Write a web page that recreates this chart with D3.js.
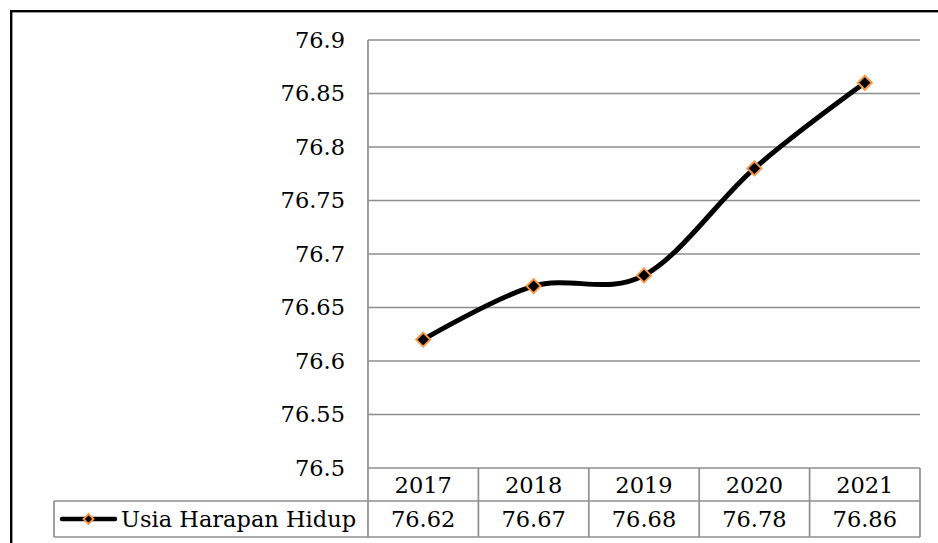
<!DOCTYPE html>
<html>
<head>
<meta charset="utf-8">
<script src="https://cdn.jsdelivr.net/npm/d3@7"></script>
<style>
  html, body { margin: 0; padding: 0; background: #fff; }
  svg { display: block; font-family: "DejaVu Serif", "Liberation Serif", serif; }
</style>
</head>
<body>
<svg id="chart" width="938" height="543"></svg>
<script>
// Life expectancy (Usia Harapan Hidup) by year
const years = ["2017", "2018", "2019", "2020", "2021"];
const values = [76.62, 76.67, 76.68, 76.78, 76.86];
const seriesName = "Usia Harapan Hidup";
const yTicks = [76.5, 76.55, 76.6, 76.65, 76.7, 76.75, 76.8, 76.85, 76.9];
const yTickLabels = ["76.5", "76.55", "76.6", "76.65", "76.7", "76.75", "76.8", "76.85", "76.9"];

const svg = d3.select("#chart");
const W = 938, H = 543;
const plot = { left: 368, right: 920, top: 40, bottom: 468 };
const row1 = 501, row2 = 537, tableLeft = 54;
const grid = "#8e8e8e";
const orange = "#F79646";
const fontSize = 22.5;

// outer frame
svg.append("rect")
  .attr("x", 11.2).attr("y", 11.2)
  .attr("width", W + 10).attr("height", H + 10)
  .attr("fill", "none").attr("stroke", "#000").attr("stroke-width", 2.4);

const x = d3.scaleBand().domain(years).range([plot.left, plot.right]).paddingInner(0).paddingOuter(0);
const y = d3.scaleLinear().domain([76.5, 76.9]).range([plot.bottom, plot.top]);

// horizontal gridlines
svg.append("g").selectAll("line").data(yTicks).join("line")
  .attr("x1", plot.left).attr("x2", plot.right)
  .attr("y1", d => y(d)).attr("y2", d => y(d))
  .attr("stroke", grid).attr("stroke-width", 1.7);

// value axis labels
const yAxis = d3.axisLeft(y).tickValues(yTicks).tickSize(0).tickPadding(23)
  .tickFormat((d, i) => yTickLabels[i]);
const ya = svg.append("g").attr("transform", `translate(${plot.left},0)`).call(yAxis);
ya.select(".domain").remove();
ya.selectAll("text").attr("font-size", fontSize).attr("font-family", "DejaVu Serif, serif").attr("fill", "#000");

// data table lines
const tl = svg.append("g").attr("stroke", grid).attr("stroke-width", 1.7);
tl.append("line").attr("x1", plot.left).attr("x2", plot.left).attr("y1", plot.top).attr("y2", row2);
tl.append("line").attr("x1", tableLeft).attr("x2", plot.right).attr("y1", row1).attr("y2", row1);
tl.append("line").attr("x1", tableLeft).attr("x2", plot.right).attr("y1", row2).attr("y2", row2);
tl.append("line").attr("x1", tableLeft).attr("x2", tableLeft).attr("y1", row1).attr("y2", row2);
tl.selectAll("line.col").data(years).join("line").attr("class", "col")
  .attr("x1", d => x(d) + x.bandwidth()).attr("x2", d => x(d) + x.bandwidth())
  .attr("y1", plot.bottom).attr("y2", row2);

// category row
svg.append("g").selectAll("text").data(years).join("text")
  .attr("x", d => x(d) + x.bandwidth() / 2)
  .attr("y", (plot.bottom + row1) / 2 + 1)
  .attr("dy", "0.35em").attr("text-anchor", "middle")
  .attr("font-size", fontSize).text(d => d);

// value row
svg.append("g").selectAll("text").data(values).join("text")
  .attr("x", (d, i) => x(years[i]) + x.bandwidth() / 2)
  .attr("y", (row1 + row2) / 2)
  .attr("dy", "0.35em").attr("text-anchor", "middle")
  .attr("font-size", fontSize).text(d => d.toFixed(2));

// smoothed series line
const line = d3.line()
  .x((d, i) => x(years[i]) + x.bandwidth() / 2)
  .y(d => y(d))
  .curve(d3.curveCatmullRom.alpha(0));
svg.append("path").datum(values)
  .attr("d", line).attr("fill", "none")
  .attr("stroke", "#000").attr("stroke-width", 5)
  .attr("stroke-linecap", "round").attr("stroke-linejoin", "round");

const diamond = r => `M0,${-r}L${r},0L0,${r}L${-r},0Z`;
svg.append("g").selectAll("path").data(values).join("path")
  .attr("transform", (d, i) => `translate(${x(years[i]) + x.bandwidth() / 2},${y(d)})`)
  .attr("d", diamond(7))
  .attr("fill", "#000").attr("stroke", orange).attr("stroke-width", 2);

// legend key in the table
const ly = (row1 + row2) / 2;
svg.append("line").attr("x1", 62).attr("x2", 115).attr("y1", ly).attr("y2", ly)
  .attr("stroke", "#000").attr("stroke-width", 4.5).attr("stroke-linecap", "round");
svg.append("path").attr("transform", `translate(88.5,${ly})`).attr("d", diamond(5))
  .attr("fill", "#000").attr("stroke", orange).attr("stroke-width", 1.8);
svg.append("text").attr("x", 121).attr("y", ly).attr("dy", "0.35em")
  .attr("font-size", fontSize).text(seriesName);
</script>
</body>
</html>
